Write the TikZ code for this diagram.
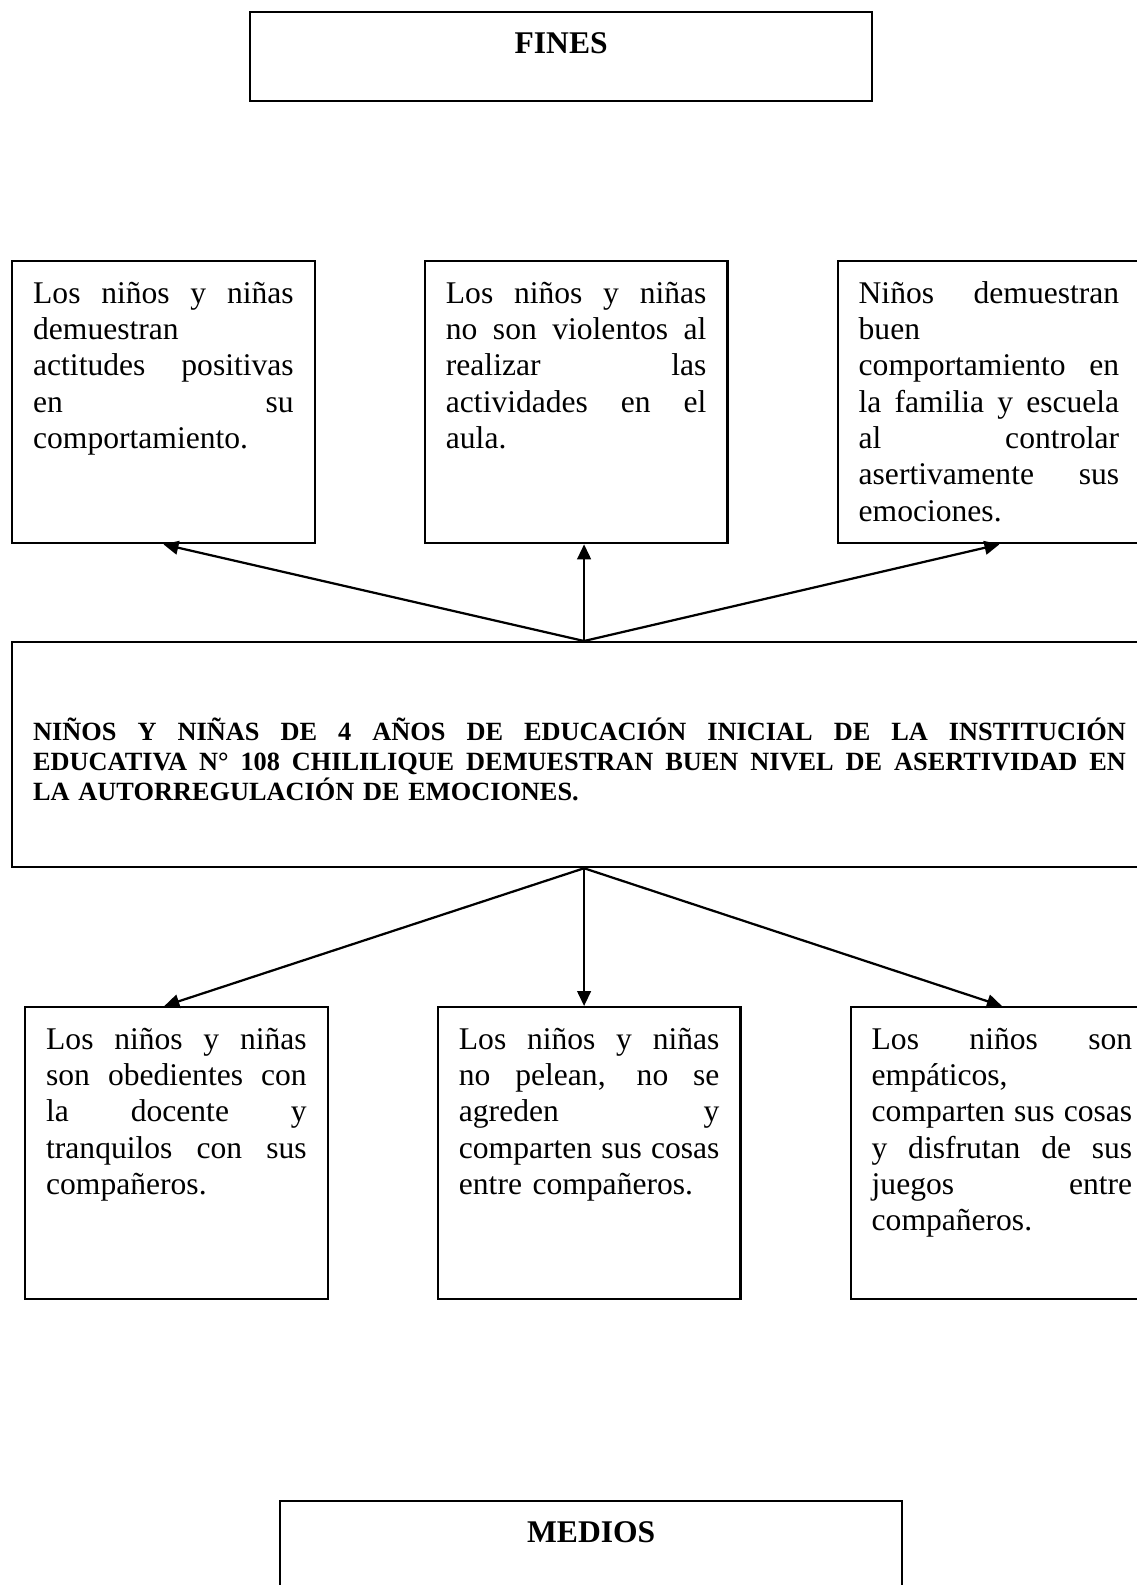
\documentclass[tikz,border=0pt]{standalone}
\usepackage{fontspec}
\setmainfont{Liberation Serif}
\usetikzlibrary{arrows.meta, positioning}

% one justified line of a box
\newcommand{\jl}[2][99pt]{\leavevmode\hbox to #1{\spaceskip=0pt plus 1fil\xspaceskip=0pt plus 1fil\relax #2}}

\begin{document}
\begin{tikzpicture}[
    x=0.38pt, y=-0.38pt,
    titulo/.style={rectangle, draw, line width=0.85pt, anchor=north west, inner sep=0pt,
        minimum width=236.4pt, text height=15.8pt, text depth=18pt,
        font=\fontsize{12}{13.8}\selectfont\bfseries},
    caja/.style={rectangle, draw, line width=0.85pt, anchor=north west, inner xsep=8pt, inner ysep=0pt,
        text width=99pt, text height=16pt, text depth=#1, align=left,
        font=\fontsize{12}{13.8}\selectfont},
    centro/.style={rectangle, draw, line width=0.85pt, anchor=north west, inner xsep=8pt, inner ysep=0pt,
        text width=415.3pt, text height=37.2pt, text depth=48.3pt, align=left,
        font=\fontsize{10}{11.5}\selectfont\bfseries},
    flecha/.style={-{Triangle[length=5.7pt, width=5.2pt]}, line width=0.85pt},
]

\path[use as bounding box, fill=white] (0,0) rectangle (1137,1585);

% Title
\node[titulo] (fines) at (249,11) {FINES};

% Row 1: ends
\node[caja=91.2pt] (f1) at (11,260) {\jl{Los niños y niñas}\\ demuestran\\ \jl{actitudes positivas}\\ \jl{en su}\\ comportamiento.};
\node[caja=91.2pt, right=41pt of f1] (f2) {\jl{Los niños y niñas}\\ \jl{no son violentos al}\\ \jl{realizar las}\\ \jl{actividades en el}\\ aula.};
\node[caja=91.2pt, right=41pt of f2] (f3) {\jl{Niños demuestran}\\ buen\\ \jl{comportamiento en}\\ \jl{la familia y escuela}\\ \jl{al controlar}\\ \jl{asertivamente sus}\\ emociones.};

% Central problem
\node[centro] (cen) at (11,641) {\jl[415.3pt]{NIÑOS Y NIÑAS DE 4 AÑOS DE EDUCACIÓN INICIAL DE LA INSTITUCIÓN}\\
    \jl[415.3pt]{EDUCATIVA N° 108 CHILILIQUE DEMUESTRAN BUEN NIVEL DE ASERTIVIDAD EN}\\
    LA AUTORREGULACIÓN DE EMOCIONES.};
\coordinate (ct) at ([xshift=1.7pt]cen.north);
\coordinate (cb) at ([xshift=1.7pt]cen.south);

\draw[flecha] (ct) -- (f1.south);
\draw[flecha] (ct) -- (ct |- f2.south);
\draw[flecha] (ct) -- ([xshift=4pt]f3.south);

% Row 2: means
\node[caja=95pt] (f4) at (24,1006) {\jl{Los niños y niñas}\\ \jl{son obedientes con}\\ \jl{la docente y}\\ \jl{tranquilos con sus}\\ compañeros.};
\node[caja=95pt, right=41pt of f4] (f5) {\jl{Los niños y niñas}\\ \jl{no pelean, no se}\\ \jl{agreden y}\\ \jl{comparten sus cosas}\\ entre compañeros.};
\node[caja=95pt, right=41pt of f5] (f6) {\jl{Los niños son}\\ empáticos,\\ \jl{comparten sus cosas}\\ \jl{y disfrutan de sus}\\ \jl{juegos entre}\\ compañeros.};

\draw[flecha] (cb) -- ([xshift=-4.6pt]f4.north);
\draw[flecha] (cb) -- (cb |- f5.north);
\draw[flecha] (cb) -- (f6.north);

% Bottom title
\node[titulo] (medios) at (279,1500) {MEDIOS};

\end{tikzpicture}
\end{document}
